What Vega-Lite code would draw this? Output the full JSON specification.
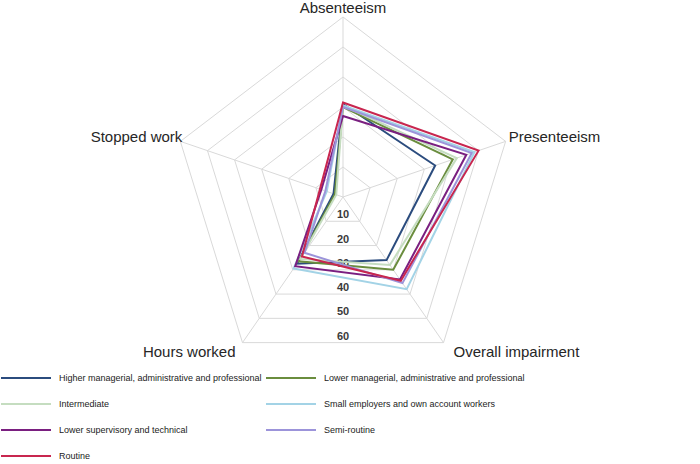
{
  "$schema": "https://vega.github.io/schema/vega-lite/v6.json",
  "width": 700,
  "height": 464,
  "padding": 0,
  "autosize": {"type": "none"},
  "background": "white",
  "config": {"view": {"stroke": null}},
  "datasets": {
    "axes": [
      {"axis": "Absenteeism"},
      {"axis": "Presenteeism"},
      {"axis": "Overall impairment"},
      {"axis": "Hours worked"},
      {"axis": "Stopped work"}
    ],
    "rings": [
      {"level": 10, "axis": ["Absenteeism", "Presenteeism", "Overall impairment", "Hours worked", "Stopped work"]},
      {"level": 20, "axis": ["Absenteeism", "Presenteeism", "Overall impairment", "Hours worked", "Stopped work"]},
      {"level": 30, "axis": ["Absenteeism", "Presenteeism", "Overall impairment", "Hours worked", "Stopped work"]},
      {"level": 40, "axis": ["Absenteeism", "Presenteeism", "Overall impairment", "Hours worked", "Stopped work"]},
      {"level": 50, "axis": ["Absenteeism", "Presenteeism", "Overall impairment", "Hours worked", "Stopped work"]},
      {"level": 60, "axis": ["Absenteeism", "Presenteeism", "Overall impairment", "Hours worked", "Stopped work"]}
    ],
    "series": [
      {"group": "Higher managerial, administrative and professional", "axis": "Absenteeism", "value": 31},
      {"group": "Higher managerial, administrative and professional", "axis": "Presenteeism", "value": 34},
      {"group": "Higher managerial, administrative and professional", "axis": "Overall impairment", "value": 26},
      {"group": "Higher managerial, administrative and professional", "axis": "Hours worked", "value": 27.5},
      {"group": "Higher managerial, administrative and professional", "axis": "Stopped work", "value": 3.5},
      {"group": "Lower managerial, administrative and professional", "axis": "Absenteeism", "value": 30},
      {"group": "Lower managerial, administrative and professional", "axis": "Presenteeism", "value": 40.5},
      {"group": "Lower managerial, administrative and professional", "axis": "Overall impairment", "value": 30},
      {"group": "Lower managerial, administrative and professional", "axis": "Hours worked", "value": 26.5},
      {"group": "Lower managerial, administrative and professional", "axis": "Stopped work", "value": 3},
      {"group": "Intermediate", "axis": "Absenteeism", "value": 30.5},
      {"group": "Intermediate", "axis": "Presenteeism", "value": 42},
      {"group": "Intermediate", "axis": "Overall impairment", "value": 28},
      {"group": "Intermediate", "axis": "Hours worked", "value": 25.5},
      {"group": "Intermediate", "axis": "Stopped work", "value": 2.5},
      {"group": "Small employers and own account workers", "axis": "Absenteeism", "value": 30.5},
      {"group": "Small employers and own account workers", "axis": "Presenteeism", "value": 48.5},
      {"group": "Small employers and own account workers", "axis": "Overall impairment", "value": 38},
      {"group": "Small employers and own account workers", "axis": "Hours worked", "value": 29.5},
      {"group": "Small employers and own account workers", "axis": "Stopped work", "value": 6},
      {"group": "Lower supervisory and technical", "axis": "Absenteeism", "value": 27},
      {"group": "Lower supervisory and technical", "axis": "Presenteeism", "value": 45.5},
      {"group": "Lower supervisory and technical", "axis": "Overall impairment", "value": 34},
      {"group": "Lower supervisory and technical", "axis": "Hours worked", "value": 28.5},
      {"group": "Lower supervisory and technical", "axis": "Stopped work", "value": 8},
      {"group": "Semi-routine", "axis": "Absenteeism", "value": 30},
      {"group": "Semi-routine", "axis": "Presenteeism", "value": 47.5},
      {"group": "Semi-routine", "axis": "Overall impairment", "value": 35.5},
      {"group": "Semi-routine", "axis": "Hours worked", "value": 23},
      {"group": "Semi-routine", "axis": "Stopped work", "value": 6.5},
      {"group": "Routine", "axis": "Absenteeism", "value": 31.5},
      {"group": "Routine", "axis": "Presenteeism", "value": 50},
      {"group": "Routine", "axis": "Overall impairment", "value": 34.5},
      {"group": "Routine", "axis": "Hours worked", "value": 24.5},
      {"group": "Routine", "axis": "Stopped work", "value": 8.5}
    ],
    "ticks": [
      {"level": 10}, {"level": 20}, {"level": 30}, {"level": 40}, {"level": 50}, {"level": 60}
    ]
  },
  "encoding": {
    "x": {"field": "px", "type": "quantitative", "scale": {"domain": [-120.35, 125.26], "nice": false, "zero": false}, "axis": null},
    "y": {"field": "py", "type": "quantitative", "scale": {"domain": [-89, 65.667], "nice": false, "zero": false}, "axis": null}
  },
  "layer": [
    {
      "data": {"name": "rings"},
      "transform": [
        {"flatten": ["axis"]},
        {"calculate": "indexof(['Absenteeism','Presenteeism','Overall impairment','Hours worked','Stopped work'], datum.axis)", "as": "idx"},
        {"calculate": "PI/2 - datum.idx*2*PI/5", "as": "ang"},
        {"calculate": "datum.level*cos(datum.ang)", "as": "px"},
        {"calculate": "datum.level*sin(datum.ang)", "as": "py"}
      ],
      "mark": {"type": "line", "interpolate": "linear-closed", "color": "#D9D9D9", "strokeWidth": 1},
      "encoding": {
        "detail": {"field": "level", "type": "nominal"},
        "order": {"field": "idx", "type": "quantitative"}
      }
    },
    {
      "data": {"name": "axes"},
      "transform": [
        {"calculate": "indexof(['Absenteeism','Presenteeism','Overall impairment','Hours worked','Stopped work'], datum.axis)", "as": "idx"},
        {"calculate": "PI/2 - datum.idx*2*PI/5", "as": "ang"},
        {"calculate": "60*cos(datum.ang)", "as": "px"},
        {"calculate": "60*sin(datum.ang)", "as": "py"}
      ],
      "mark": {"type": "rule", "color": "#D9D9D9", "strokeWidth": 1},
      "encoding": {
        "x2": {"datum": 0},
        "y2": {"datum": 0}
      }
    },
    {
      "data": {"name": "ticks"},
      "transform": [
        {"calculate": "0", "as": "px"},
        {"calculate": "-datum.level*cos(PI/5)", "as": "py"}
      ],
      "mark": {"type": "text", "baseline": "alphabetic", "align": "center", "dy": -3, "font": "Liberation Sans", "fontSize": 11, "fontWeight": "bold", "color": "#3A3A3A"},
      "encoding": {"text": {"field": "level", "type": "quantitative"}}
    },
    {
      "data": {"name": "series"},
      "transform": [
        {"calculate": "indexof(['Absenteeism','Presenteeism','Overall impairment','Hours worked','Stopped work'], datum.axis)", "as": "idx"},
        {"calculate": "PI/2 - datum.idx*2*PI/5", "as": "ang"},
        {"calculate": "datum.value*cos(datum.ang)", "as": "px"},
        {"calculate": "datum.value*sin(datum.ang)", "as": "py"}
      ],
      "mark": {"type": "line", "interpolate": "linear-closed", "strokeWidth": 2},
      "encoding": {
        "order": {"field": "idx", "type": "quantitative"},
        "color": {
          "field": "group",
          "type": "nominal",
          "scale": {
            "domain": ["Higher managerial, administrative and professional", "Lower managerial, administrative and professional", "Intermediate", "Small employers and own account workers", "Lower supervisory and technical", "Semi-routine", "Routine"],
            "range": ["#2B4C7E", "#6A8D3E", "#C5DDC0", "#A3D3E6", "#7A1F80", "#9C94DA", "#C8264F"]
          },
          "legend": {
            "orient": "none",
            "legendX": 20,
            "legendY": 372,
            "columns": 2,
            "direction": "horizontal",
            "title": null,
            "padding": 0,
            "symbolType": "M-5,0H5",
            "symbolSize": 100,
            "symbolStrokeWidth": 2,
            "labelFont": "Liberation Sans",
            "labelFontSize": 9,
            "labelColor": "#222222",
            "labelOffset": 27,
            "labelLimit": 0,
            "rowPadding": 15,
            "columnPadding": 0
          }
        }
      }
    },
    {
      "data": {"name": "axes"},
      "transform": [
        {"filter": "datum.axis == 'Absenteeism'"},
        {"calculate": "0", "as": "px"},
        {"calculate": "60", "as": "py"}
      ],
      "mark": {"type": "text", "align": "center", "baseline": "alphabetic", "dy": -4, "font": "Liberation Sans", "fontSize": 15, "color": "#262626"},
      "encoding": {"text": {"field": "axis"}}
    },
    {
      "data": {"name": "axes"},
      "transform": [
        {"filter": "datum.axis == 'Presenteeism'"},
        {"calculate": "60*cos(PI/2 - 2*PI/5)", "as": "px"},
        {"calculate": "60*sin(PI/2 - 2*PI/5)", "as": "py"}
      ],
      "mark": {"type": "text", "align": "left", "baseline": "middle", "dx": 3, "dy": -4, "font": "Liberation Sans", "fontSize": 15, "color": "#262626"},
      "encoding": {"text": {"field": "axis"}}
    },
    {
      "data": {"name": "axes"},
      "transform": [
        {"filter": "datum.axis == 'Overall impairment'"},
        {"calculate": "60*cos(PI/2 - 4*PI/5)", "as": "px"},
        {"calculate": "60*sin(PI/2 - 4*PI/5)", "as": "py"}
      ],
      "mark": {"type": "text", "align": "left", "baseline": "middle", "dx": 10, "dy": 9, "font": "Liberation Sans", "fontSize": 15, "color": "#262626"},
      "encoding": {"text": {"field": "axis"}}
    },
    {
      "data": {"name": "axes"},
      "transform": [
        {"filter": "datum.axis == 'Hours worked'"},
        {"calculate": "60*cos(PI/2 - 6*PI/5)", "as": "px"},
        {"calculate": "60*sin(PI/2 - 6*PI/5)", "as": "py"}
      ],
      "mark": {"type": "text", "align": "right", "baseline": "middle", "dx": -7, "dy": 9, "font": "Liberation Sans", "fontSize": 15, "color": "#262626"},
      "encoding": {"text": {"field": "axis"}}
    },
    {
      "data": {"name": "axes"},
      "transform": [
        {"filter": "datum.axis == 'Stopped work'"},
        {"calculate": "60*cos(PI/2 - 8*PI/5)", "as": "px"},
        {"calculate": "60*sin(PI/2 - 8*PI/5)", "as": "py"}
      ],
      "mark": {"type": "text", "align": "right", "baseline": "middle", "dx": 2, "dy": -4, "font": "Liberation Sans", "fontSize": 15, "color": "#262626"},
      "encoding": {"text": {"field": "axis"}}
    }
  ]
}
